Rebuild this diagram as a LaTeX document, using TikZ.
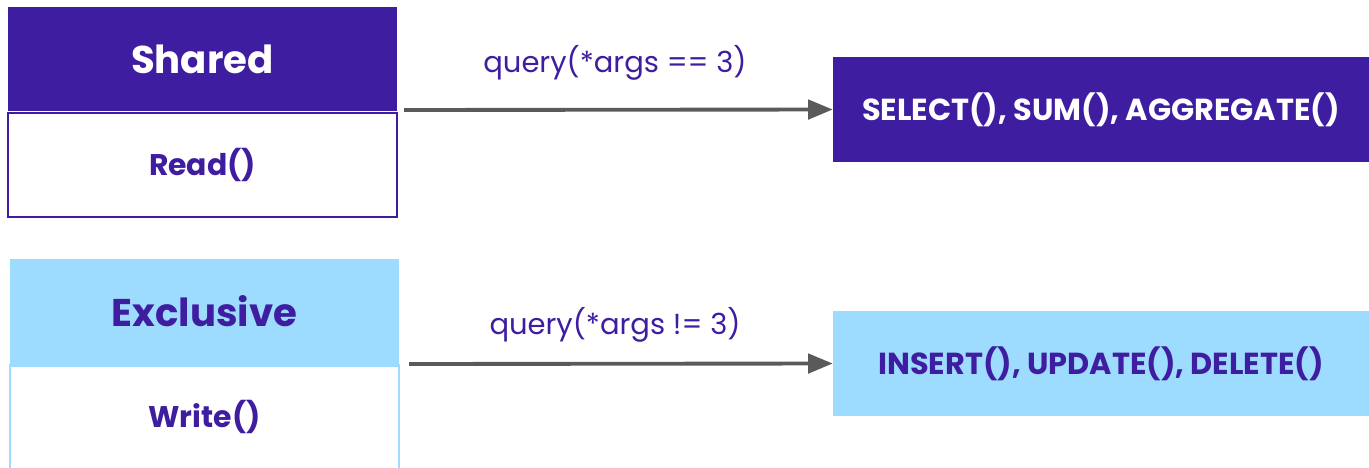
\documentclass[tikz,border=0pt]{standalone}
\usepackage{fontspec}
\setmainfont{Poppins}
\usetikzlibrary{arrows.meta,positioning}

\definecolor{lockpurple}{RGB}{63,29,160}
\definecolor{lockblue}{RGB}{158,220,255}
\definecolor{arrowgray}{RGB}{90,90,90}

\begin{document}
\begin{tikzpicture}[x=0.02cm,y=-0.02cm,
  head/.style={minimum width=7.78cm,minimum height=2.1cm,inner sep=0pt,
    font=\bfseries\fontsize{22}{26}\selectfont},
  body/.style={minimum width=7.78cm,minimum height=2.08cm,inner sep=0pt,
    fill=white,text=lockpurple,font=\bfseries\fontsize{17}{20}\selectfont},
  opbox/.style={minimum width=10.72cm,minimum height=2.1cm,inner sep=0pt,
    font=\bfseries\fontsize{17.3}{20}\selectfont},
  call/.style={draw=arrowgray,line width=2.2pt,
    -{Triangle[length=14pt,width=11pt]}},
  calllabel/.style={text=lockpurple,font=\fontsize{16.5}{20}\selectfont}]

%page
\useasboundingbox (0,0) rectangle (1369,467);
\clip (0,0) rectangle (1369,467);

%lock modes
\node[head,fill=lockpurple,text=white] (shared) at (202.5,59) {Shared};
\node[body,draw=lockpurple,line width=1pt,below=0pt of shared] (read) {Read()};
\node[head,fill=lockblue,text=lockpurple] (exclusive) at (204.5,311.5) {Exclusive};
\node[body,draw=lockblue,line width=1.3pt,below=0pt of exclusive] (write) {Write()};

%operations
\node[opbox,fill=lockpurple,text=white] (select) at (1101,109.5)
  {SELECT(), SUM(), AGGREGATE()};
\node[opbox,fill=lockblue,text=lockpurple] (insert) at (1101,363.5)
  {INSERT(), UPDATE(), DELETE()};

%arrows
\coordinate (qs) at (404,110);
\coordinate (qe) at (409,364);
\draw[call] (qs) -- (select.west);
\draw[call] (qe) -- (insert.west);
\node[calllabel] (qslabel) at (615,63) {query(*args == 3)};
\node[calllabel] (qelabel) at (615,325) {query(*args != 3)};

\end{tikzpicture}
\end{document}
